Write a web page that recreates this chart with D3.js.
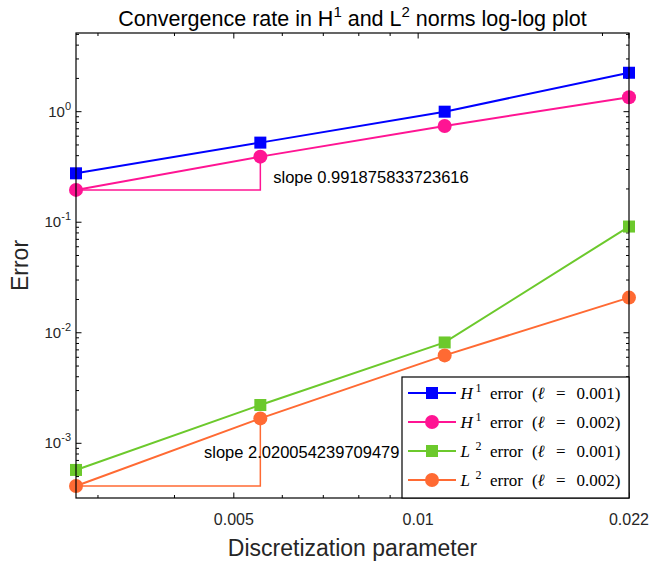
<!DOCTYPE html>
<html>
<head>
<meta charset="utf-8">
<script src="https://cdn.jsdelivr.net/npm/d3@7"></script>
<style>
  body { margin: 0; background: #fff; }
  svg { display: block; }
  text { font-family: "Liberation Sans", Arial, sans-serif; }
</style>
</head>
<body>
<div id="chart"></div>
<script>
// mesh sizes h (sqrt(2)/512 ... sqrt(2)/64)
const hValues = [0.0027621, 0.0055243, 0.0110485, 0.0220971];
const h1Err001 = [0.277, 0.525, 1.0, 2.25];
const h1Err002 = [0.196, 0.392, 0.743, 1.35];
const l2Err001 = [0.000574, 0.00222, 0.00817, 0.0914];
const l2Err002 = [0.000411, 0.00168, 0.00624, 0.0208];

const seriesNames = ["H1_001", "H1_002", "L2_001", "L2_002"];
const xTickValues = [0.005, 0.01, 0.0220971];
const xTickLabels = ["0.005", "0.01", "0.022"];
const yTickExps = [-3, -2, -1, 0];

const slopeLabels = ["slope 0.991875833723616", "slope 2.020054239709479"];
const slopeLabelX = [0.0058, 0.00447];
const slopeLabelY = [0.25, 0.0008];

const series = [
  { name: seriesNames[0], values: h1Err001, color: "#0000ff", marker: "square", norm: "H", sup: "1", ell: "0.001" },
  { name: seriesNames[1], values: h1Err002, color: "#ff1493", marker: "circle", norm: "H", sup: "1", ell: "0.002" },
  { name: seriesNames[2], values: l2Err001, color: "#6cc92c", marker: "square", norm: "L", sup: "2", ell: "0.001" },
  { name: seriesNames[3], values: l2Err002, color: "#ff6a33", marker: "circle", norm: "L", sup: "2", ell: "0.002" },
];

const width = 653, height = 563;
const margin = { left: 76, right: 24, top: 33, bottom: 65 };
const x0 = margin.left, x1 = width - margin.right;
const y0 = margin.top, y1 = height - margin.bottom;

const svg = d3.select("#chart").append("svg")
  .attr("width", width).attr("height", height);

const xScale = d3.scaleLog().domain([hValues[0], hValues[3]]).range([x0, x1]);
const yScale = d3.scaleLog().domain([3.2e-4, 5.15]).range([y1, y0]);

// minor ticks
const xMinor = [];
for (let k = 2; k <= 9; k++) { xMinor.push(k * 0.001); xMinor.push(k * 0.01); }
const xMinorIn = xMinor.filter(v => v >= hValues[0] && v <= hValues[3] && !xTickValues.some(t => Math.abs(t - v) < 1e-6));
const yMinor = [];
for (let e = -4; e <= 0; e++) for (let k = 2; k <= 9; k++) yMinor.push(k * Math.pow(10, e));
const yDom = yScale.domain();
const yMinorIn = yMinor.filter(v => v >= yDom[0] && v <= yDom[1]);

const axes = svg.append("g").attr("stroke", "#000").attr("stroke-width", 1);
// x ticks (inward, bottom and top)
xMinorIn.forEach(v => {
  const px = xScale(v);
  axes.append("line").attr("x1", px).attr("x2", px).attr("y1", y1).attr("y2", y1 - 3);
  axes.append("line").attr("x1", px).attr("x2", px).attr("y1", y0).attr("y2", y0 + 3);
});
xTickValues.forEach(v => {
  const px = xScale(v);
  axes.append("line").attr("x1", px).attr("x2", px).attr("y1", y1).attr("y2", y1 - 5.5);
  axes.append("line").attr("x1", px).attr("x2", px).attr("y1", y0).attr("y2", y0 + 5.5);
});
yMinorIn.forEach(v => {
  const py = yScale(v);
  axes.append("line").attr("x1", x0).attr("x2", x0 + 3).attr("y1", py).attr("y2", py);
  axes.append("line").attr("x1", x1).attr("x2", x1 - 3).attr("y1", py).attr("y2", py);
});
yTickExps.forEach(e => {
  const py = yScale(Math.pow(10, e));
  axes.append("line").attr("x1", x0).attr("x2", x0 + 5.5).attr("y1", py).attr("y2", py);
  axes.append("line").attr("x1", x1).attr("x2", x1 - 5.5).attr("y1", py).attr("y2", py);
});

// tick labels
xTickValues.forEach((v, i) => {
  svg.append("text").attr("x", xScale(v)).attr("y", y1 + 27)
    .attr("text-anchor", "middle").attr("font-size", 16).attr("fill", "#262626")
    .text(xTickLabels[i]);
});
yTickExps.forEach(e => {
  const t = svg.append("text").attr("x", x0 - 5).attr("y", yScale(Math.pow(10, e)) + 5)
    .attr("text-anchor", "end").attr("font-size", 15).attr("fill", "#262626");
  t.append("tspan").text("10");
  t.append("tspan").attr("dy", -7).attr("font-size", 11).text(String(e));
});

// slope triangles
[[1, "#ff1493"], [3, "#ff6a33"]].forEach(([si, col]) => {
  const v = series[si].values;
  const pts = [[hValues[0], v[0]], [hValues[1], v[0]], [hValues[1], v[1]]];
  svg.append("path")
    .attr("d", d3.line().x(d => xScale(d[0])).y(d => yScale(d[1]))(pts))
    .attr("fill", "none").attr("stroke", col).attr("stroke-width", 1.5);
});

// lines and markers
series.forEach(s => {
  const pts = hValues.map((h, i) => [h, s.values[i]]);
  svg.append("path")
    .attr("d", d3.line().x(d => xScale(d[0])).y(d => yScale(d[1]))(pts))
    .attr("fill", "none").attr("stroke", s.color).attr("stroke-width", 2);
  pts.forEach(p => drawMarker(svg, xScale(p[0]), yScale(p[1]), s));
});

function drawMarker(g, cx, cy, s) {
  if (s.marker === "square") {
    g.append("rect").attr("x", cx - 6).attr("y", cy - 6).attr("width", 12).attr("height", 12)
      .attr("fill", s.color);
  } else {
    g.append("circle").attr("cx", cx).attr("cy", cy).attr("r", 7).attr("fill", s.color);
  }
}

// slope labels
slopeLabels.forEach((txt, i) => {
  svg.append("text").attr("x", xScale(slopeLabelX[i])).attr("y", yScale(slopeLabelY[i]))
    .attr("dominant-baseline", "middle").attr("font-size", 16.5).attr("fill", "#000").text(txt);
});

// frame
svg.append("rect").attr("x", x0).attr("y", y0).attr("width", x1 - x0).attr("height", y1 - y0)
  .attr("fill", "none").attr("stroke", "#000").attr("stroke-width", 1.2);

// legend
const lg = svg.append("g");
const lgX = 402, lgY = 377, lgW = x1 - 402, lgH = y1 - 377;
lg.append("rect").attr("x", lgX).attr("y", lgY).attr("width", lgW).attr("height", lgH)
  .attr("fill", "#fff").attr("stroke", "#000").attr("stroke-width", 1.2);
const serif = "'Liberation Serif', 'DejaVu Serif', serif";
series.forEach((s, i) => {
  const cy = lgY + 16 + i * 29;
  lg.append("line").attr("x1", lgX + 6).attr("x2", lgX + 54).attr("y1", cy).attr("y2", cy)
    .attr("stroke", s.color).attr("stroke-width", 2);
  drawMarker(lg, lgX + 30, cy, s);
  const base = cy + 5.5;
  const part = (dx, str, opts = {}) => {
    const t = lg.append("text").attr("x", lgX + dx).attr("y", base + (opts.dy || 0))
      .attr("font-size", opts.size || 17).style("font-family", serif).attr("fill", "#000").text(str);
    if (opts.italic) t.attr("font-style", "italic");
  };
  part(58.5, s.norm, { italic: true });
  part(73.5, s.sup, { size: 12, dy: -7 });
  part(88, "error");
  part(130, "(");
  part(135.5, "\u2113", { italic: true });
  part(154, "=");
  part(174.5, s.ell + ")");
});

// title and axis labels
const title = svg.append("text").attr("x", (x0 + x1) / 2).attr("y", 26)
  .attr("text-anchor", "middle").attr("font-size", 21.5).attr("fill", "#000");
title.append("tspan").text("Convergence rate in H");
title.append("tspan").attr("dy", -9).attr("font-size", 15).text("1");
title.append("tspan").attr("dy", 9).text(" and L");
title.append("tspan").attr("dy", -9).attr("font-size", 15).text("2");
title.append("tspan").attr("dy", 9).text(" norms log-log plot");

svg.append("text").attr("x", (x0 + x1) / 2).attr("y", 556)
  .attr("text-anchor", "middle").attr("font-size", 23).attr("fill", "#262626")
  .text("Discretization parameter");
svg.append("text").attr("transform", `translate(28,${(y0 + y1) / 2}) rotate(-90)`)
  .attr("text-anchor", "middle").attr("font-size", 23).attr("fill", "#262626")
  .text("Error");
</script>
</body>
</html>
